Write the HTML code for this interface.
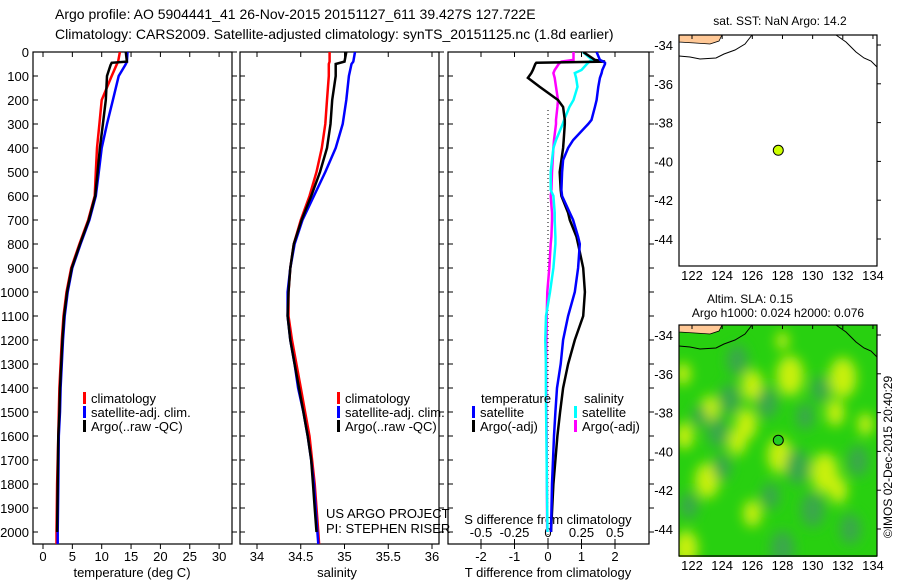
<!DOCTYPE html>
<html><head><meta charset="utf-8">
<style>
html,body{margin:0;padding:0;background:#fff;}
svg{display:block;font-family:"Liberation Sans",sans-serif;}
text{fill:#000;}
</style></head>
<body>
<svg id="chart" width="900" height="580" viewBox="0 0 900 580" xmlns="http://www.w3.org/2000/svg">
<defs>
<filter id="blur" x="-50%" y="-50%" width="200%" height="200%"><feGaussianBlur stdDeviation="6"/></filter>
<clipPath id="clipMap2"><rect x="679" y="325" width="198" height="232"/></clipPath>
<clipPath id="clipP1"><rect x="33" y="52" width="199" height="492"/></clipPath>
<clipPath id="clipP2"><rect x="240" y="52" width="199" height="492"/></clipPath>
<clipPath id="clipP3"><rect x="448" y="52" width="201" height="492"/></clipPath>
</defs>
<text x="55" y="19" font-size="14">Argo profile: AO 5904441_41 26-Nov-2015 20151127_611 39.427S 127.722E</text>
<text x="55" y="39" font-size="14">Climatology: CARS2009. Satellite-adjusted climatology: synTS_20151125.nc (1.8d earlier)</text>
<g id="g"></g>
</svg>
<script>
// ---------- data ----------
const depthT = [0,40,45,55,100,200,300,400,500,600,700,800,900,1000,1100,1200,1300,1400,1500,1600,1800,2000,2050];
const tempClim = [13.1,12.8,12.7,12.5,11.7,10.0,9.6,9.2,9.0,8.8,7.7,6.2,4.8,4.0,3.5,3.2,3.0,2.8,2.7,2.6,2.4,2.3,2.3];
const tempSat  = [14.4,14.3,14.2,14.0,12.9,11.9,10.9,10.0,9.5,9.0,7.9,6.4,5.0,4.2,3.7,3.4,3.2,3.0,2.9,2.7,2.6,2.5,2.5];
const tempArgo = [14.1,14.3,11.7,11.5,10.9,10.7,10.2,9.7,9.3,8.9,7.8,6.3,4.9,4.1,3.6,3.3,3.1,2.9,2.8,2.6,2.5,2.4,null];
const depthS = [0,40,50,100,200,300,400,500,600,700,800,900,1000,1100,1200,1300,1400,1500,1600,1700,1800,1900,2000,2050];
const salClim = [34.83,34.83,34.82,34.82,34.80,34.78,34.74,34.68,34.60,34.50,34.42,34.38,34.36,34.36,34.40,34.45,34.50,34.55,34.60,34.63,34.66,34.68,34.70,34.71];
const salSat  = [35.12,35.10,35.08,35.05,35.02,34.98,34.90,34.78,34.65,34.52,34.43,34.38,34.35,34.35,34.38,34.43,34.47,34.53,34.58,34.62,34.65,34.67,34.69,34.70];
const salArgo = [35.02,35.00,34.90,34.90,34.86,34.84,34.80,34.72,34.62,34.51,34.42,34.38,34.36,34.35,34.38,34.43,34.48,34.53,34.58,34.62,34.64,34.66,34.68,null];
const depthD = [0,33,40,45,50,75,88,108,145,200,229,283,300,367,400,450,500,575,600,670,700,770,800,900,1000,1100,1200,1300,1400,1500,1600,1800,2000];
const dTsat  = [1.45,1.55,1.65,1.7,1.7,1.62,1.6,1.55,1.5,1.45,1.4,1.3,1.2,0.75,0.6,0.45,0.42,0.4,0.42,0.65,0.75,0.9,0.95,0.9,0.8,0.6,0.45,0.38,0.27,0.22,0.18,0.12,0.09];
const dTargo = [1.05,1.4,1.7,-0.35,-0.38,-0.45,-0.5,-0.6,-0.25,0.3,0.45,0.5,0.5,0.47,0.45,0.4,0.35,0.38,0.4,0.6,0.65,0.85,0.9,1.05,1.1,1.05,0.8,0.6,0.45,0.36,0.28,0.16,0.09];
const dSsat  = [0.26,0.33,0.31,0.30,0.29,0.25,0.20,0.21,0.22,0.19,0.16,0.12,0.11,0.06,0.04,0.03,0.02,0.02,0.04,0.05,0.05,0.055,0.055,0.04,0.015,-0.015,-0.02,-0.016,-0.016,-0.014,-0.012,-0.008,-0.004];
const dSargo = [0.19,0.19,0.10,0.09,0.08,0.05,0.04,0.05,0.06,0.075,0.07,0.06,0.06,0.045,0.04,0.035,0.03,0.025,0.02,0.03,0.03,0.025,0.02,0.01,-0.005,-0.01,-0.012,-0.014,-0.013,-0.012,-0.01,-0.008,-0.006];
const depthTicks = [0,100,200,300,400,500,600,700,800,900,1000,1100,1200,1300,1400,1500,1600,1700,1800,1900,2000];
const tempTicks = [0,5,10,15,20,25,30];
const salTicks = [34,34.5,35,35.5,36];
const salTickLabels = ["34","34.5","35","35.5","36"];
const dTTicks = [-2,-1,0,1,2];
const dSTicks = [-0.5,-0.25,0,0.25,0.5];
const dSTickLabels = ["-0.5","-0.25","0","0.25","0.5"];
const lonTicks = [122,124,126,128,130,132,134];
const latTicks = [-34,-36,-38,-40,-42,-44];
const argoLon = 127.722, argoLat = -39.427;
// SLA map blobs: lon, lat, radius(deg), kind (1 = high/yellow, 0 = low/dark)
const blobLon = [128.5,132.0,126.0,123.2,121.4,125.6,125.0,127.8,121.5,123.0,130.8,131.5,121.6,126.0,133.5,128.0,131.7,129.0,123.7,130.0,128.0,132.5,124.5,127.0,121.8,125.0,129.5,133.0,127.2,124.0,130.5,122.5];
const blobLat = [-36.1,-36.2,-36.6,-37.8,-36.0,-38.6,-39.5,-40.2,-39.2,-41.5,-41.1,-38.0,-45.0,-43.2,-38.6,-34.3,-42.0,-40.8,-39.0,-43.0,-45.0,-44.0,-37.3,-37.5,-42.8,-35.3,-38.2,-40.5,-42.3,-40.8,-36.8,-38.2];
const blobR   = [0.9,0.9,0.7,0.6,0.5,0.7,0.6,0.8,0.6,0.8,0.9,0.6,0.8,0.6,0.5,0.4,0.6,0.8,0.7,0.8,0.8,0.7,0.7,0.7,0.6,0.7,0.6,0.7,0.6,0.6,0.6,0.5];
const blobKind= [1,1,1,1,1,1,1,1,1,1,1,1,1,1,1,1,1,0,0,0,0,0,0,0,0,0,0,0,0,0,0,0];

// ---------- helpers ----------
const NS="http://www.w3.org/2000/svg";
const G=document.getElementById('g');
function mk(tag,attrs,parent){const e=document.createElementNS(NS,tag);for(const k in attrs)e.setAttribute(k,attrs[k]);(parent||G).appendChild(e);return e;}
function txt(x,y,s,size,anchor,parent){const t=mk('text',{x:x,y:y,'font-size':size||13,'text-anchor':anchor||'start'},parent);t.textContent=s;return t;}
const Y0=52, PXM=0.24;
const yD=d=>Y0+d*PXM;
const xT=v=>43+v*5.87;
const xS=v=>257+(v-34)*87.5;
const xDT=v=>548+v*33.5;
const xDS=v=>548+v*134;
function line(xs,ys,sx,color,w,name,clip){
  let d='';let pen=false;
  for(let i=0;i<xs.length;i++){if(xs[i]===null){pen=false;continue;}d+=(pen?'L':'M')+sx(xs[i]).toFixed(1)+','+yD(ys[i]).toFixed(1);pen=true;}
  const p=mk('path',{d:d,fill:'none',stroke:color,'stroke-width':w||2.5,'stroke-linejoin':'miter','clip-path':'url(#'+clip+')'});
  
  
  return p;
}
function panel(x,w,name){const r=mk('rect',{x:x,y:52,width:w,height:492,fill:'none',stroke:'#000','stroke-width':1.2});
  
  
  depthTicks.forEach(d=>{mk('line',{x1:x,x2:x+5,y1:yD(d),y2:yD(d),stroke:'#000'});mk('line',{x1:x+w,x2:x+w+5,y1:yD(d),y2:yD(d),stroke:'#000'});});
}
// ---------- panels ----------
panel(33,199,'temperature-panel');
panel(240,199,'salinity-panel');
panel(448,201,'difference-panel');
depthTicks.forEach(d=>{const t=txt(29,yD(d)+5,String(d),13,'end');
  
  });
tempTicks.forEach(v=>{mk('line',{x1:xT(v),x2:xT(v),y1:52,y2:57,stroke:'#000'});mk('line',{x1:xT(v),x2:xT(v),y1:544,y2:549,stroke:'#000'});
  const t=txt(xT(v),561,String(v),13,'middle');
  
  });
salTicks.forEach((v,i)=>{mk('line',{x1:xS(v),x2:xS(v),y1:52,y2:57,stroke:'#000'});mk('line',{x1:xS(v),x2:xS(v),y1:544,y2:549,stroke:'#000'});
  const t=txt(xS(v),561,salTickLabels[i],13,'middle');
  
  });
dTTicks.forEach(v=>{mk('line',{x1:xDT(v),x2:xDT(v),y1:52,y2:57,stroke:'#000'});mk('line',{x1:xDT(v),x2:xDT(v),y1:544,y2:549,stroke:'#000'});
  const t=txt(xDT(v),561,String(v),13,'middle');
  
  });
dSTicks.forEach((v,i)=>{mk('line',{x1:xDS(v),x2:xDS(v),y1:539,y2:544,stroke:'#000'});
  const t=txt(xDS(v),537,dSTickLabels[i],13,'middle');
  
  });
let t;
t=txt(132,577,'temperature (deg C)',13,'middle');
t=txt(337,577,'salinity',13,'middle');
t=txt(548,577,'T difference from climatology',13,'middle');
t=txt(548,524,'S difference from climatology',13,'middle');
// zero line
mk('line',{x1:xDT(0),x2:xDT(0),y1:110,y2:544,stroke:'#000','stroke-dasharray':'1,3'});
// series
line(tempClim,depthT,xT,'#ff0000',2.5,'temperature-climatology-line','clipP1');
line(tempSat,depthT,xT,'#0000ff',2.5,'temperature-satellite-line','clipP1');
line(tempArgo,depthT,xT,'#000000',2.5,'temperature-argo-line','clipP1');
line(salClim,depthS,xS,'#ff0000',2.5,'salinity-climatology-line','clipP2');
line(salSat,depthS,xS,'#0000ff',2.5,'salinity-satellite-line','clipP2');
line(salArgo,depthS,xS,'#000000',2.5,'salinity-argo-line','clipP2');
line(dSargo,depthD,xDS,'#ff00ff',2.5,'s-diff-argo-line','clipP3');
line(dSsat,depthD,xDS,'#00ffff',2.5,'s-diff-satellite-line','clipP3');
line(dTargo,depthD,xDT,'#000000',2.5,'t-diff-argo-line','clipP3');
line(dTsat,depthD,xDT,'#0000ff',2.5,'t-diff-satellite-line','clipP3');
// legends
function leg(x,y,color,label,name){mk('rect',{x:x,y:y-11,width:3,height:12,fill:color});const tt=txt(x+8,y,label,13);
  
  }
leg(83,403,'#ff0000','climatology','legend-climatology');
leg(83,417,'#0000ff','satellite-adj. clim.','legend-satellite');
leg(83,431,'#000','Argo(..raw -QC)','legend-argo');
leg(337,403,'#ff0000','climatology','legend-climatology-2');
leg(337,417,'#0000ff','satellite-adj. clim.','legend-satellite-2');
leg(337,431,'#000','Argo(..raw -QC)','legend-argo-2');
t=txt(481,403,'temperature',13);
t=txt(584,403,'salinity',13);
leg(472,417,'#0000ff','satellite','legend-t-satellite');
leg(472,431,'#000','Argo(-adj)','legend-t-argo');
leg(574,417,'#00ffff','satellite','legend-s-satellite');
leg(574,431,'#ff00ff','Argo(-adj)','legend-s-argo');
t=txt(326,518,'US ARGO PROJECT',13);
t=txt(326,533,'PI: STEPHEN RISER',13);

// ---------- maps ----------
function mapX(lon){return 692+(lon-122)*15.08;}
function mapY(lat,top){return top+10+(-34-lat)*19.4;}
function mapFrame(top,name){
  const r=mk('rect',{x:679,y:top,width:198,height:231,fill:'none',stroke:'#000','stroke-width':1.2});
  
  
  lonTicks.forEach(v=>{mk('line',{x1:mapX(v),x2:mapX(v),y1:top,y2:top+4,stroke:'#000'});
    const tt=txt(mapX(v),top+245,String(v),13,'middle');
    
    });
  latTicks.forEach(v=>{mk('line',{x1:877,x2:881,y1:mapY(v,top),y2:mapY(v,top),stroke:'#000'});
    const tt=txt(673,mapY(v,top)+5,String(v),13,'end');
    
    });
}
function coast(top){
  const o=top-35;
  mk('path',{d:`M679,${35+o} L722,${35+o} L719,${41+o} L710,${44+o} L695,${43+o} L679,${42+o}Z`,fill:'#ffc896',stroke:'#000','stroke-width':0.8});
  mk('path',{d:`M679,${56+o} L690,${57+o} L700,${59+o} L716,${58+o} L724,${54+o} L735,${50+o} L745,${44+o} L752,${35+o}`,fill:'none',stroke:'#000','stroke-width':1});
  mk('path',{d:`M836,${35+o} L846,${42+o} L851,${47+o} L856,${52+o} L864,${58+o} L871,${61+o} L877,${67+o}`,fill:'none',stroke:'#000','stroke-width':1});
}
// map 1
mk('rect',{x:679,y:35,width:198,height:231,fill:'#fff'});
coast(35);
mapFrame(35,'sst-map');
const dot1=mk('circle',{cx:mapX(argoLon),cy:mapY(argoLat,35),r:5,fill:'#ccff00',stroke:'#000','stroke-width':1});


t=txt(780,25,'sat. SST: NaN Argo: 14.2',12,'middle');
// map 2
const mg=mk('g',{'clip-path':'url(#clipMap2)'});


mk('rect',{x:679,y:325,width:198,height:232,fill:'#28d010'},mg);
const bg=mk('g',{filter:'url(#blur)'},mg);
blobLon.forEach((lon,i)=>{
  const c=mk('ellipse',{cx:mapX(lon),cy:mapY(blobLat[i],325),rx:blobR[i]*15.08,ry:blobR[i]*19.4*1.15,fill:blobKind[i]?'#c8f010':'#3aa84c'},bg);
  
  
});
coast(325);
mapFrame(325,'sla-map');
const dot2=mk('circle',{cx:mapX(argoLon),cy:mapY(argoLat,325),r:5,fill:'#22cc22',stroke:'#000','stroke-width':1});


t=txt(750,303,'Altim. SLA: 0.15',12,'middle');
t=txt(778,317,'Argo h1000: 0.024 h2000: 0.076',12,'middle');
t=mk('text',{x:0,y:0,'font-size':12,'text-anchor':'middle',transform:'translate(892,457) rotate(-90)'});
t.textContent='©IMOS 02-Dec-2015 20:40:29';


</script>
</body></html>
